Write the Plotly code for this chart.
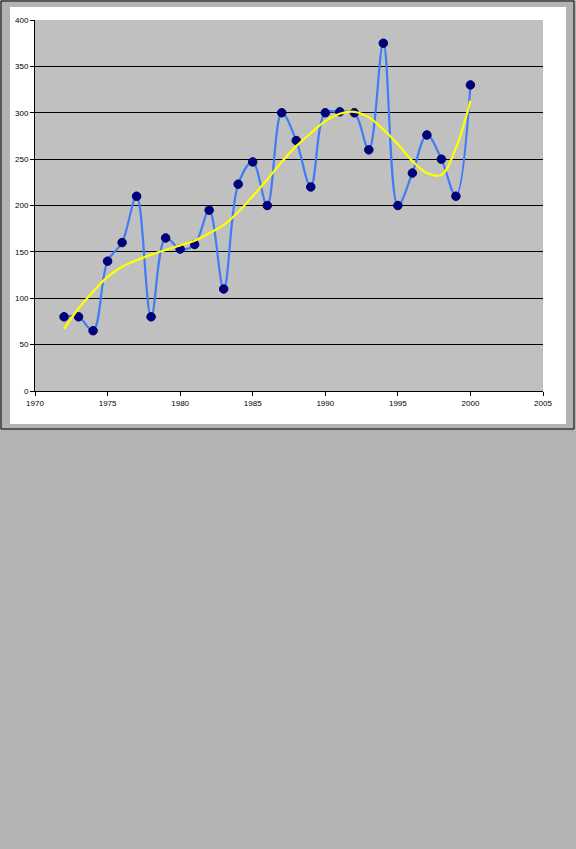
import plotly.graph_objects as go

# values
years = list(range(1972, 2001))
counts = [80, 80, 65, 140, 160, 210, 80, 165, 153, 158, 195, 110, 223, 247,
          200, 300, 270, 220, 300, 301, 300, 260, 375, 200, 235, 276, 250, 210, 330]
trend = [67, 89, 107, 123, 134, 141, 147, 152, 157, 162, 170, 179, 193, 210,
         228, 247, 264, 278, 291, 299, 301, 295, 282, 266, 248, 235, 233, 262, 313]
y_ticks = [0, 50, 100, 150, 200, 250, 300, 350, 400]
x_ticks = [1970, 1975, 1980, 1985, 1990, 1995, 2000, 2005]

W, H = 576, 849
L, R, T, B = 35, 543, 20, 391   # plot area in pixels


def px_x(p):
    return (p - L) / (R - L)


def px_y(p):
    return (B - p) / (B - T)


fig = go.Figure()

fig.add_trace(go.Scatter(
    x=years, y=counts, mode="lines+markers",
    line=dict(color="#3f7cf5", width=2.2, shape="spline", smoothing=1.0),
    marker=dict(color="#000080", size=8.5, symbol="circle",
                line=dict(color="#000060", width=1)),
    showlegend=False, hoverinfo="x+y",
))
fig.add_trace(go.Scatter(
    x=years, y=trend, mode="lines",
    line=dict(color="#ffff00", width=2.2, shape="spline", smoothing=1.0),
    showlegend=False, hoverinfo="skip",
))

shapes = [
    # outer frame
    dict(type="rect", xref="paper", yref="paper",
         x0=px_x(1), x1=px_x(574), y0=px_y(429), y1=px_y(1),
         line=dict(color="#000000", width=1), fillcolor="#b3b3b3", layer="below"),
    # white chart panel
    dict(type="rect", xref="paper", yref="paper",
         x0=px_x(10), x1=px_x(566), y0=px_y(424), y1=px_y(7),
         line=dict(width=0), fillcolor="#ffffff", layer="below"),
    # plot area
    dict(type="rect", xref="paper", yref="paper",
         x0=0, x1=1, y0=0, y1=1,
         line=dict(width=0), fillcolor="#c0c0c0", layer="below"),
]

fig.update_layout(
    width=W, height=H,
    margin=dict(l=L, r=W - R, t=T, b=H - B, pad=0),
    paper_bgcolor="#b3b3b3",
    plot_bgcolor="#c0c0c0",
    font=dict(family="Liberation Sans, Arial", size=8, color="#000000"),
    shapes=shapes,
)
fig.update_xaxes(
    range=[1970, 2005], tickvals=x_ticks, ticktext=[str(v) for v in x_ticks],
    showgrid=False, zeroline=False, showline=True, linecolor="#000000",
    linewidth=1, ticks="outside", ticklen=4, tickcolor="#000000",
)
fig.update_yaxes(
    range=[0, 400], tickvals=y_ticks, ticktext=[str(v) for v in y_ticks],
    showgrid=True, gridcolor="#000000", gridwidth=1, zeroline=False,
    showline=True, linecolor="#000000", linewidth=1,
    ticks="outside", ticklen=4, tickcolor="#000000",
)

# drop the browser's default body margin so the figure sits at the page corner
fig.write_html("out.html",
               config={"displayModeBar": False},
               post_script="document.body.style.margin='0';"
                           "document.body.style.background='#b3b3b3';")
